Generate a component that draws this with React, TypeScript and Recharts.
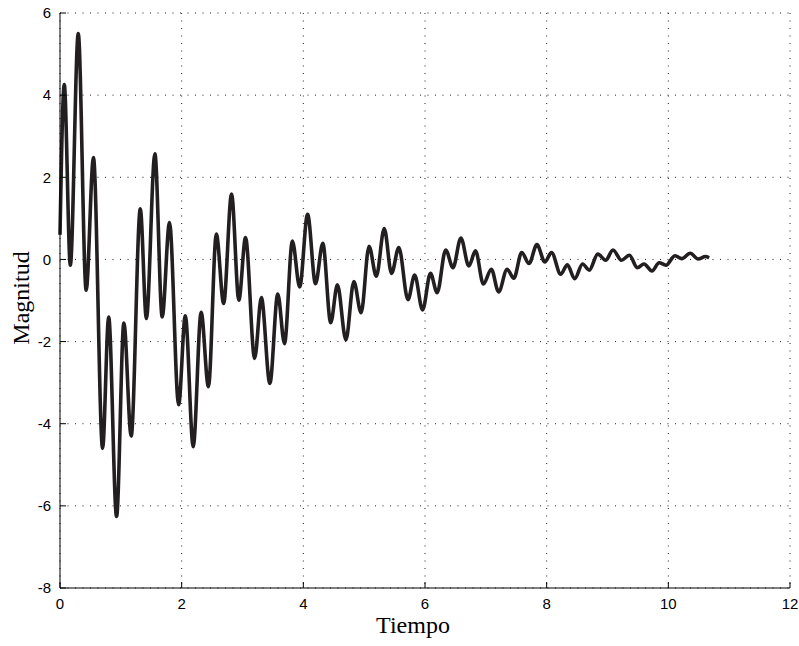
import { LineChart, Line, XAxis, YAxis, CartesianGrid } from "recharts";

// turning points of the response (time, magnitude)
const tiempo = [
  0, 0.07, 0.17, 0.3, 0.43, 0.55, 0.7, 0.8, 0.93, 1.05, 1.17, 1.32, 1.42, 1.56,
  1.68, 1.8, 1.95, 2.06, 2.19, 2.32, 2.44, 2.57, 2.69, 2.82, 2.94, 3.05, 3.2,
  3.31, 3.45, 3.58, 3.69, 3.82, 3.94, 4.07, 4.2, 4.32, 4.45, 4.56, 4.7, 4.83,
  4.95, 5.08, 5.2, 5.33, 5.45, 5.57, 5.72, 5.83, 5.96, 6.09, 6.2, 6.34, 6.46,
  6.59, 6.72, 6.83, 6.96, 7.09, 7.21, 7.35, 7.46, 7.59, 7.71, 7.84, 7.97, 8.08,
  8.23, 8.34, 8.46, 8.59, 8.7, 8.84, 8.97, 9.09, 9.23, 9.36, 9.49, 9.6, 9.73,
  9.85, 9.96, 10.11, 10.22, 10.36, 10.49, 10.61, 10.67,
];

const magnitud = [
  0.6, 4.26, -0.14, 5.5, -0.75, 2.48, -4.6, -1.4, -6.26, -1.55, -4.3, 1.23,
  -1.44, 2.57, -1.4, 0.9, -3.54, -1.37, -4.56, -1.29, -3.1, 0.62, -1.07, 1.59,
  -0.99, 0.53, -2.41, -0.93, -3.02, -0.84, -2.05, 0.45, -0.67, 1.1, -0.59, 0.39,
  -1.54, -0.62, -1.96, -0.54, -1.3, 0.32, -0.41, 0.75, -0.34, 0.29, -0.98,
  -0.38, -1.23, -0.34, -0.81, 0.23, -0.2, 0.52, -0.16, 0.21, -0.6, -0.24, -0.79,
  -0.24, -0.46, 0.17, -0.1, 0.36, -0.06, 0.17, -0.36, -0.13, -0.47, -0.11,
  -0.26, 0.13, -0.02, 0.23, -0.02, 0.1, -0.2, -0.11, -0.28, -0.08, -0.14, 0.09,
  0.02, 0.15, 0.01, 0.07, 0.04,
];

const xTicks = [0, 2, 4, 6, 8, 10, 12];
const yTicks = [-8, -6, -4, -2, 0, 2, 4, 6];

const data = tiempo.map((t, i) => ({ t, v: magnitud[i] }));

const tickFont = {
  fill: "#000",
  fontSize: 15,
  fontFamily: "'Liberation Sans Narrow', 'Liberation Sans', Arial, sans-serif",
};

const titleFont = "'Liberation Serif', 'Times New Roman', serif";

export default function App() {
  return (
    <div style={{ position: "absolute", left: 0, top: 0, background: "#fff" }}>
      <LineChart
        width={799}
        height={646}
        data={data}
        margin={{ top: 13, right: 9, left: 0, bottom: 0 }}
      >
        <CartesianGrid
          stroke="#222"
          strokeDasharray="1 6.5"
          horizontalValues={yTicks}
          verticalValues={xTicks}
        />
        <XAxis
          dataKey="t"
          type="number"
          domain={[0, 12]}
          ticks={xTicks}
          tick={tickFont}
          tickSize={-6}
          tickMargin={16}
          height={58}
          stroke="#000"
          tickLine={{ stroke: "#000" }}
          axisLine={{ stroke: "#000" }}
          label={{
            value: "Tiempo",
            position: "insideBottom",
            offset: 13,
            dx: -12,
            fill: "#000",
            fontSize: 24,
            fontFamily: titleFont,
          }}
        />
        <YAxis
          type="number"
          domain={[-8, 6]}
          ticks={yTicks}
          tick={tickFont}
          tickSize={-6}
          tickMargin={15}
          width={60}
          stroke="#000"
          tickLine={{ stroke: "#000" }}
          axisLine={{ stroke: "#000" }}
          label={{
            content: () => (
              <text
                x={29}
                y={298}
                transform="rotate(-90 29 298)"
                textAnchor="middle"
                fill="#000"
                fontSize={24}
                fontFamily={titleFont}
              >
                Magnitud
              </text>
            ),
          }}
        />
        <Line
          type="monotone"
          dataKey="v"
          stroke="#231f20"
          strokeWidth={3.6}
          dot={false}
          activeDot={false}
          isAnimationActive={false}
        />
      </LineChart>
    </div>
  );
}
